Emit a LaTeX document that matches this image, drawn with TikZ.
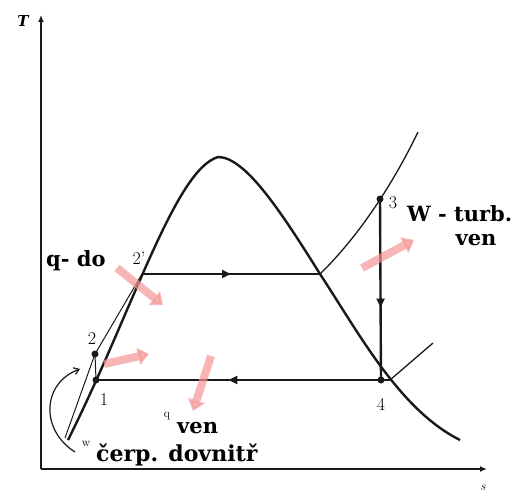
\documentclass[tikz,border=0pt]{standalone}
\usepackage{fontspec}
\usepackage{tikz}
\usetikzlibrary{arrows.meta,decorations.markings}
\newfontfamily\labelfont{DejaVu Serif}
\definecolor{lineDark}{RGB}{25,25,25}
\definecolor{heatPink}{RGB}{243,150,150}

\tikzset{
  cycleline/.style={line width=2.4pt, lineDark},
  thinline/.style={line width=1pt, lineDark},
  midarrow/.style={postaction={decorate}, decoration={markings,
      mark=at position #1 with {\arrow{Triangle[length=9pt,width=8pt]}}}},
  flowarrow/.style={line width=8pt, heatPink, opacity=0.7,
      -{Triangle[length=11pt,width=17pt]}},
  statedot/.style={circle, fill=lineDark, inner sep=0pt, minimum size=7pt},
  numlabel/.style={font=\fontsize{18}{18}\selectfont},
  boldlabel/.style={font=\labelfont\fontsize{21}{22}\selectfont\bfseries, inner sep=0pt}
}

\begin{document}
\begin{tikzpicture}[x=1pt, y=-1pt]
  \useasboundingbox (0,0) rectangle (519,494);
  % axes
  \coordinate (origin) at (41,469);
  \draw[line width=2pt, lineDark, -{Latex[length=7pt,width=6pt]}] (origin) -- (41,15) coordinate (taxis);
  \draw[line width=2pt, lineDark, -{Latex[length=7pt,width=6pt]}] (origin) -- (487,469) coordinate (saxis);
  \node[font=\labelfont\fontsize{15}{15}\selectfont\bfseries\itshape] (tlabel) at (23,21) {T};
  \node[font=\fontsize{13}{13}\selectfont\itshape] (slabel) at (483,488) {s};

  % saturation dome
  \draw[cycleline] (68,440) .. controls (133,310) and (175,170) .. (218,157)
    .. controls (245,157) and (280,210) .. (320,274)
    .. controls (360,335) and (400,410) .. (460,440);

  % state points
  \node[statedot] (p1) at (96,380) {};
  \node[statedot] (p2) at (95,354) {};
  \coordinate (p2s) at (142,274);
  \coordinate (vap) at (320,274);
  \node[statedot] (p3) at (380,199) {};
  \node[statedot] (p4) at (381,380) {};
  \coordinate (wet) at (390,380);
  \coordinate (shtop) at (418,132);
  \coordinate (isoend) at (433,343);

  % cycle
  \draw[cycleline, midarrow=0.5] (p2s) -- (vap);
  \draw[thinline, line width=1.3pt] (vap) .. controls (355,240) and (390,190) .. (shtop);
  \draw[cycleline, midarrow=0.6] (p3.center) -- (p4.center);
  \draw[cycleline, midarrow=0.55] (wet) -- (p1.center);
  \draw[thinline, line width=1.3pt] (wet) -- (isoend);
  \draw[thinline] (65,438) -- (p2.center) .. controls (115,320) .. (p2s);
  \draw[thinline] (p1.center) -- (p2.center);

  % pump work
  \draw[thinline, line width=1.2pt, -{Straight Barb[length=5pt,width=7pt]}]
    (75,452) .. controls (40,430) and (42,383) .. (80,369);

  % heat and work flows
  \draw[flowarrow] (117,268) -- (163,305);
  \draw[flowarrow] (104,364) -- (149,354);
  \draw[flowarrow] (211,356) -- (193,411);
  \draw[flowarrow] (362,268) -- (414,240);

  % labels
  \node[numlabel] (l1) at (104,400) {1};
  \node[numlabel] (l2) at (92,339) {2};
  \node[numlabel] (l2s) at (139,258) {2'};
  \node[numlabel] (l3) at (393,203) {3};
  \node[numlabel] (l4) at (381,404) {4};
  \node[boldlabel, anchor=west] (qin) at (46,261) {q- do};
  \node[boldlabel, anchor=west] (wturb) at (407,214) {W - turb.};
  \node[boldlabel] (wven) at (476,240) {ven};
  \node[font=\fontsize{12}{12}\selectfont] (qsym) at (167,416) {q};
  \node[boldlabel, anchor=west] (qout) at (177,428) {ven};
  \node[font=\fontsize{12}{12}\selectfont] (wsym) at (86,444) {w};
  \node[boldlabel, font=\labelfont\fontsize{22}{22}\selectfont\bfseries, anchor=west] (wpump) at (96,455) {čerp. dovnitř};
\end{tikzpicture}
\end{document}
